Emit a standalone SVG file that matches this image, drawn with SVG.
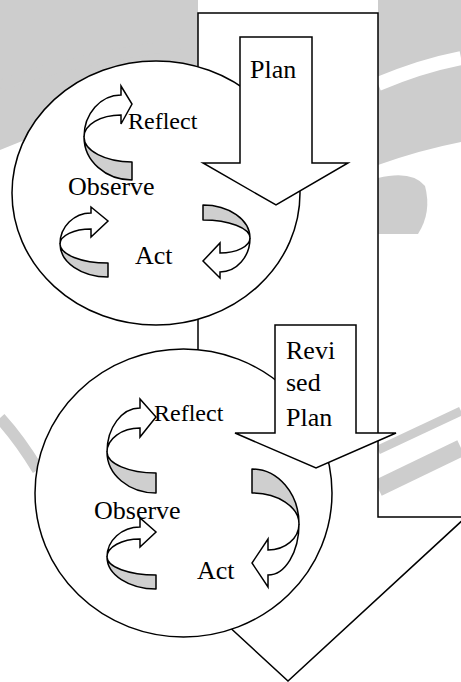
<svg xmlns="http://www.w3.org/2000/svg" width="461" height="682" viewBox="0 0 461 682">
<style>
.wm{fill:#cdcdcd}
.wmline{fill:none;stroke:#cdcdcd}
.shape{fill:#fff;stroke:#000;stroke-width:1.5;stroke-linejoin:miter}
.ribbon{fill:#cfcfcf;stroke:#000;stroke-width:1.5;stroke-linejoin:round}
.head{fill:#fff;stroke:#000;stroke-width:1.5;stroke-linejoin:miter}
.lbl{font-family:"Liberation Serif","Times New Roman",serif;font-size:26px;fill:#000}
.sm{font-size:24px}
</style>
<rect width="461" height="682" fill="#fff"/>
<g id="watermark">
<path class="wm" d="M0,0 H198 V70 L0,150 Z"/>
<path class="wmline" stroke-width="11" d="M0,86 C40,70 100,55 198,42" stroke="#fff"/>
<path class="wm" d="M378,0 H461 V142 Q420,150 378,165 Z"/>
<path d="M378,84 Q420,66 461,58" fill="none" stroke="#fff" stroke-width="14"/>
<path class="wm" d="M378,178 Q412,170 425,186 Q432,212 418,234 L378,234 Z"/>
<path class="wmline" stroke-width="12" d="M0,418 Q20,440 38,470"/>
<path class="wmline" stroke-width="9" d="M378,450 L461,411"/>
<path class="wmline" stroke-width="17" d="M378,488 L461,448"/>
</g>
<g id="outer-arrow">
<polygon class="shape" points="198,13 378,13 378,517 466,517 288,681 110,517 198,517"/>
</g>
<g id="cycle1">
<ellipse class="shape" cx="156" cy="193" rx="144" ry="132"/>
</g>
<g id="plan">
<polygon class="shape" points="240,37 312,37 312,163 348,163 276,205 203,163 240,163"/>
<text class="lbl" x="250" y="78">Plan</text>
</g>
<g id="cycle2">
<ellipse class="shape" cx="183.5" cy="493" rx="148.5" ry="144"/>
</g>
<g id="revised-plan">
<polygon class="shape" points="275,325 356,325 356,433 396,433 316,468 235,433 275,433"/>
<text class="lbl" x="286" y="359">Revi</text>
<text class="lbl" x="286" y="391">sed</text>
<text class="lbl" x="286" y="426">Plan</text>
</g>
<g id="connectors">
<g transform="translate(84,137)">
<path class="ribbon" d="M0,0 A48,43 0 0 0 48,43 L48,25 A48,25 0 0 1 0,0 Z"/>
<path class="head" d="M0,0 A37,42 0 0 1 37,-42 L37,-51 L48,-33 L37,-13 L37,-22 A37,22 0 0 0 0,0 Z"/>
</g>
<g transform="translate(60,244)">
<path class="ribbon" d="M0,0 A48,33 0 0 0 48,33 L48,19 A48,19 0 0 1 0,0 Z"/>
<path class="head" d="M0,0 A31,31 0 0 1 31,-31 L31,-37 L48,-23 L31,-7 L31,-15 A31,15 0 0 0 0,0 Z"/>
</g>
<g transform="translate(250,238)">
<path class="ribbon" d="M0,0 A47,33 0 0 0 -47,-33 L-47,-18 A47,18 0 0 1 0,0 Z"/>
<path class="head" d="M0,0 A30,34 0 0 1 -30,34 L-30,40 L-47,23 L-30,5 L-30,15 A30,15 0 0 0 0,0 Z"/>
</g>
<g transform="translate(107,452)">
<path class="ribbon" d="M0,0 A49,41 0 0 0 49,41 L49,21 A49,21 0 0 1 0,0 Z"/>
<path class="head" d="M0,0 A33,44 0 0 1 33,-44 L33,-53 L49,-35 L33,-15 L33,-24 A33,24 0 0 0 0,0 Z"/>
</g>
<g transform="translate(107,557)">
<path class="ribbon" d="M0,0 A49,32 0 0 0 49,32 L49,18 A49,18 0 0 1 0,0 Z"/>
<path class="head" d="M0,0 A33,30 0 0 1 33,-30 L33,-39 L49,-25 L33,-10 L33,-18 A33,18 0 0 0 0,0 Z"/>
</g>
<g transform="translate(299,524)">
<path class="ribbon" d="M0,0 A47,55 0 0 0 -47,-55 L-47,-31 A47,31 0 0 1 0,0 Z"/>
<path class="head" d="M0,0 A31,51 0 0 1 -31,51 L-31,63 L-47,39 L-31,15 L-31,26 A31,26 0 0 0 0,0 Z"/>
</g>
</g>
<g id="labels1">
<text class="lbl sm" x="128" y="129">Reflect</text>
<text class="lbl" x="68" y="195">Observe</text>
<text class="lbl" x="135" y="264">Act</text>
</g>
<g id="labels2">
<text class="lbl sm" x="154" y="421">Reflect</text>
<text class="lbl" x="94" y="519">Observe</text>
<text class="lbl" x="197" y="579">Act</text>
</g>
</svg>
